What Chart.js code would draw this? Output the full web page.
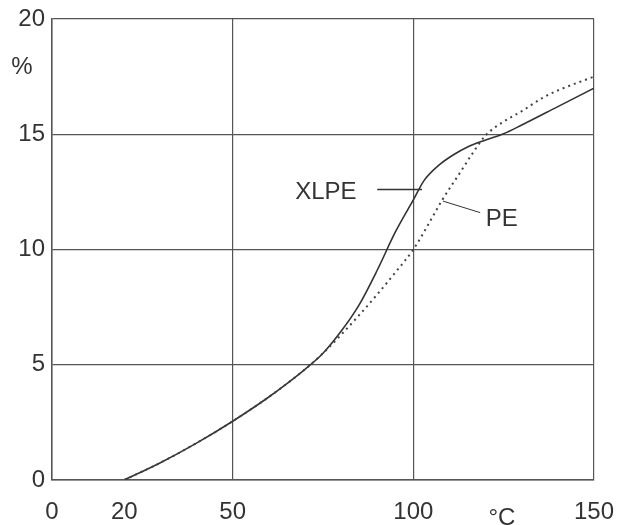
<!DOCTYPE html>
<html>
<head>
<meta charset="utf-8">
<script src="https://cdn.jsdelivr.net/npm/chart.js@4"></script>
<style>
  html, body { margin: 0; padding: 0; background: #fff; }
  #wrap { width: 621px; height: 525px; }
</style>
</head>
<body>
<div id="wrap"><canvas id="chart" width="621" height="525"></canvas></div>
<script>
// values (temperature in °C, expansion in %)
const xlpeTemps = [20, 30, 40, 50, 60, 70, 75, 80, 85, 90, 95, 100, 103, 107, 111, 115, 120, 125, 130, 140, 150];
const xlpe      = [0, 0.75, 1.6, 2.55, 3.6, 4.8, 5.5, 6.45, 7.6, 9.1, 10.75, 12.15, 13.0, 13.65, 14.1, 14.45, 14.75, 15.02, 15.4, 16.2, 17.0];
const peTemps   = [20, 30, 40, 50, 60, 70, 75, 80, 85, 90, 95, 100, 104, 108, 113, 116.5, 120, 125, 130, 136, 140, 150];
const pe        = [0, 0.75, 1.6, 2.55, 3.6, 4.8, 5.5, 6.3, 7.15, 8.05, 9.0, 10.0, 11.05, 12.15, 13.35, 14.2, 14.95, 15.55, 16.0, 16.6, 16.9, 17.5];
const xTicks = [0, 20, 50, 100, 150];
const yTicks = [0, 5, 10, 15, 20];

const ink = '#333';
const gridInk = '#555';
const font = { family: '"Liberation Sans", Arial, sans-serif', size: 24 };

function pts(xs, ys) {
  return xs.map((t, i) => ({ x: t, y: ys[i] }));
}

// unit labels and curve callouts, placed through the scales
const labels = {
  id: 'labels',
  afterDatasetsDraw(chart) {
    const { ctx, scales: { x, y } } = chart;
    ctx.save();
    ctx.fillStyle = ink;
    ctx.strokeStyle = ink;
    ctx.lineWidth = 1.5;
    ctx.font = '24px "Liberation Sans", Arial, sans-serif';
    ctx.textAlign = 'center';
    ctx.textBaseline = 'middle';

    ctx.fillText('%', 22, y.getPixelForValue(17.9));
    ctx.fillText('°C', x.getPixelForValue(124.5), 518);

    ctx.fillText('XLPE', x.getPixelForValue(75.8), y.getPixelForValue(12.5));
    ctx.beginPath();
    ctx.moveTo(x.getPixelForValue(90), y.getPixelForValue(12.6));
    ctx.lineTo(x.getPixelForValue(102.4), y.getPixelForValue(12.6));
    ctx.stroke();

    ctx.fillText('PE', x.getPixelForValue(124.5), y.getPixelForValue(11.3));
    ctx.lineWidth = 1;
    ctx.beginPath();
    ctx.moveTo(x.getPixelForValue(108.2), y.getPixelForValue(12.1));
    ctx.lineTo(x.getPixelForValue(118.5), y.getPixelForValue(11.6));
    ctx.stroke();
    ctx.restore();
  }
};

new Chart(document.getElementById('chart'), {
  type: 'line',
  data: {
    datasets: [
      {
        label: 'PE',
        data: pts(peTemps, pe),
        borderColor: '#444',
        borderWidth: 2,
        borderDash: [2, 4],
        pointRadius: 0,
        cubicInterpolationMode: 'monotone',
        fill: false
      },
      {
        label: 'XLPE',
        data: pts(xlpeTemps, xlpe),
        borderColor: ink,
        borderWidth: 1.6,
        pointRadius: 0,
        cubicInterpolationMode: 'monotone',
        fill: false
      }
    ]
  },
  options: {
    responsive: false,
    animation: false,
    layout: { padding: { top: 19, right: 27, left: 0, bottom: 0 } },
    plugins: {
      legend: { display: false },
      tooltip: { enabled: false }
    },
    scales: {
      x: {
        type: 'linear',
        min: 0,
        max: 150,
        afterBuildTicks: s => { s.ticks = xTicks.map(v => ({ value: v })); },
        afterFit: s => { s.height = 45; s.paddingLeft = 0; s.paddingRight = 0; },
        ticks: { color: ink, font: font, padding: 18, maxRotation: 0, autoSkip: false },
        grid: {
          color: c => (c.tick && (c.tick.value === 20)) ? 'rgba(0,0,0,0)' : gridInk,
          lineWidth: 1.2,
          drawTicks: false
        },
        border: { color: gridInk, width: 1.5 }
      },
      y: {
        min: 0,
        max: 20,
        afterBuildTicks: s => { s.ticks = yTicks.map(v => ({ value: v })); },
        afterFit: s => { s.width = 52; s.paddingTop = 0; s.paddingBottom = 0; },
        ticks: { color: ink, font: font, padding: 7 },
        grid: { color: gridInk, lineWidth: 1.2, drawTicks: false },
        border: { color: gridInk, width: 1.5 }
      }
    }
  },
  plugins: [labels]
});
</script>
</body>
</html>
